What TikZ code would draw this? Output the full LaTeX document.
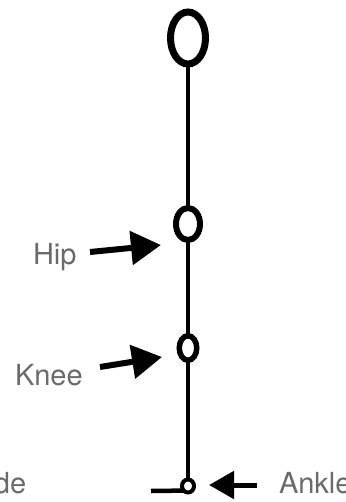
\documentclass[tikz,border=0pt]{standalone}
\usepackage{fontspec}
\setmainfont{TeX Gyre Heros}
\usetikzlibrary{arrows.meta,shapes.geometric}
\tikzset{
  joint/.style={draw=black, ellipse, inner sep=0pt, outer sep=0pt},
  bone/.style={draw=black, line width=4.5pt},
  pointer/.style={draw=black, line width=6pt, -{Triangle[length=30pt,width=33pt]}},
  smallpointer/.style={draw=black, line width=5pt, -{Triangle[length=25pt,width=27pt]}},
  lbl/.style={inner sep=0pt, outer sep=0pt, text=black!58, font=\fontsize{29}{30}\selectfont}
}
\begin{document}
\begin{tikzpicture}[x=1pt,y=-1pt]
\useasboundingbox (0,0) rectangle (345,502);
\clip (0,0) rectangle (345,502);
\fill[white] (0,0) rectangle (345,502);
% joints
\node[joint, line width=7pt, minimum width=35pt, minimum height=52pt] (head) at (188,38) {};
\node[joint, line width=6pt, minimum width=24pt, minimum height=32pt] (hip) at (188,224) {};
\node[joint, line width=5.5pt, minimum width=17.5pt, minimum height=24.5pt] (knee) at (188,348) {};
\node[joint, line width=4pt, minimum width=12pt, minimum height=13pt] (ankle) at (188,486) {};
% bones
\draw[bone] (head.south) -- (hip.north);
\draw[bone] (hip.south) -- (knee.north);
\draw[bone] (knee.south) -- (ankle.north);
\coordinate (toe) at (151,491);
\draw[bone] (toe) -- (ankle.south west);
% labels
\node[lbl, anchor=base west] (hiplbl) at (33,264) {Hip};
\node[lbl, anchor=base west] (kneelbl) at (15,385) {Knee};
\node[lbl, anchor=base west] (anklelbl) at (279,493) {Ankle};
\node[lbl, anchor=base west] (cutlbl) at (-6,493) {de};
% arrows
\coordinate (hiptail) at (90,252);
\coordinate (hiptip) at (161,245);
\draw[pointer] (hiptail) -- (hiptip);
\coordinate (kneetail) at (100,367);
\coordinate (kneetip) at (162,357);
\draw[pointer] (kneetail) -- (kneetip);
\coordinate (ankletail) at (257,485);
\coordinate (ankletip) at (209,485);
\draw[smallpointer] (ankletail) -- (ankletip);
\end{tikzpicture}
\end{document}
